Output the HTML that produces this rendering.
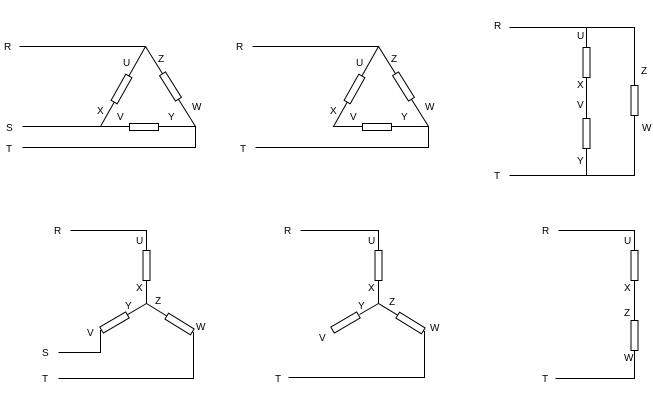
<!DOCTYPE html>
<html><head><style>
html,body{margin:0;padding:0;background:#fff;}
svg{display:block;}
text{font-family:"Liberation Sans",sans-serif;font-size:10px;fill:#000;}
</style></head><body>
<svg width="653" height="413" viewBox="0 0 653 413" xmlns="http://www.w3.org/2000/svg">
<g stroke="#000" stroke-width="1" fill="none" transform="translate(0.5,0.5)">
<!-- Diagram 1 -->
<polyline points="19,46 145,46 100,126 195,126 145,46"/>
<line x1="22" y1="126" x2="100" y2="126"/>
<polyline points="22,147 195,147 195,126"/>
<rect x="129" y="123" width="29" height="7" fill="#fff"/>
<rect x="-15" y="-3.5" width="30" height="7" fill="#fff" transform="translate(121,88.5) rotate(-60.6)"/>
<rect x="-15" y="-3.5" width="30" height="7" fill="#fff" transform="translate(170,86) rotate(58)"/>
<!-- Diagram 2 -->
<polyline points="252,46 378,46 333,126 428,126 378,46"/>
<polyline points="255,147 428,147 428,126"/>
<rect x="362" y="123" width="29" height="7" fill="#fff"/>
<rect x="-15" y="-3.5" width="30" height="7" fill="#fff" transform="translate(354,88.5) rotate(-60.6)"/>
<rect x="-15" y="-3.5" width="30" height="7" fill="#fff" transform="translate(403,86) rotate(58)"/>
<!-- Diagram 3 -->
<polyline points="509,27 634,27 634,175 509,175"/>
<line x1="586" y1="27" x2="586" y2="175"/>
<rect x="582.5" y="47" width="7" height="30" fill="#fff"/>
<rect x="582.5" y="118" width="7" height="30" fill="#fff"/>
<rect x="630.5" y="85" width="7" height="30" fill="#fff"/>
<!-- Diagram 4 -->
<polyline points="70,230 146,230 146,303"/>
<rect x="142.5" y="250" width="7" height="30" fill="#fff"/>
<polyline points="146,303 100,330 100,352 58,352"/>
<polyline points="146,303 193,332 193,378 58,378"/>
<rect x="-15" y="-3.5" width="30" height="7" fill="#fff" transform="translate(114,322) rotate(-30.4)"/>
<rect x="-15" y="-3.5" width="30" height="7" fill="#fff" transform="translate(179,323.5) rotate(31.7)"/>
<!-- Diagram 5 -->
<polyline points="300,230 378,230 378,303"/>
<rect x="374.5" y="250" width="7" height="30" fill="#fff"/>
<polyline points="378,303 359,314"/>
<polyline points="378,303 424,331 424,377 288,377"/>
<rect x="-15" y="-3.5" width="30" height="7" fill="#fff" transform="translate(345,322) rotate(-30.4)"/>
<rect x="-15" y="-3.5" width="30" height="7" fill="#fff" transform="translate(410,322.5) rotate(31.7)"/>
<!-- Diagram 6 -->
<polyline points="558,230 634,230 634,378 555,378"/>
<rect x="630.5" y="250" width="7" height="30" fill="#fff"/>
<rect x="630.5" y="320" width="7" height="30" fill="#fff"/>
</g>
<g>
<text x="4" y="50">R</text><text x="6" y="131">S</text><text x="6" y="152">T</text>
<text x="123" y="66">U</text><text x="158" y="62">Z</text><text x="97" y="114">X</text>
<text x="117" y="120">V</text><text x="168" y="120">Y</text><text x="192" y="110">W</text>
<text x="236" y="50">R</text><text x="240" y="152">T</text>
<text x="356" y="66">U</text><text x="391" y="62">Z</text><text x="330" y="114">X</text>
<text x="350" y="120">V</text><text x="401" y="120">Y</text><text x="425" y="110">W</text>
<text x="494" y="29">R</text><text x="494" y="179">T</text>
<text x="577" y="39">U</text><text x="577" y="88">X</text><text x="577" y="108">V</text>
<text x="577" y="164">Y</text><text x="641" y="74">Z</text><text x="642" y="131">W</text>
<text x="54" y="234">R</text><text x="42" y="356">S</text><text x="42" y="382">T</text>
<text x="136" y="244">U</text><text x="136" y="291">X</text><text x="125" y="309">Y</text>
<text x="155" y="304">Z</text><text x="87" y="336">V</text><text x="196" y="330">W</text>
<text x="284" y="234">R</text><text x="275" y="382">T</text>
<text x="368" y="244">U</text><text x="368" y="291">X</text><text x="358" y="309">Y</text>
<text x="389" y="305">Z</text><text x="319" y="341">V</text><text x="430" y="331">W</text>
<text x="542" y="234">R</text><text x="542" y="382">T</text>
<text x="624" y="244">U</text><text x="624" y="291">X</text><text x="624" y="316">Z</text><text x="624" y="361">W</text>
</g>
</svg>
</body></html>
